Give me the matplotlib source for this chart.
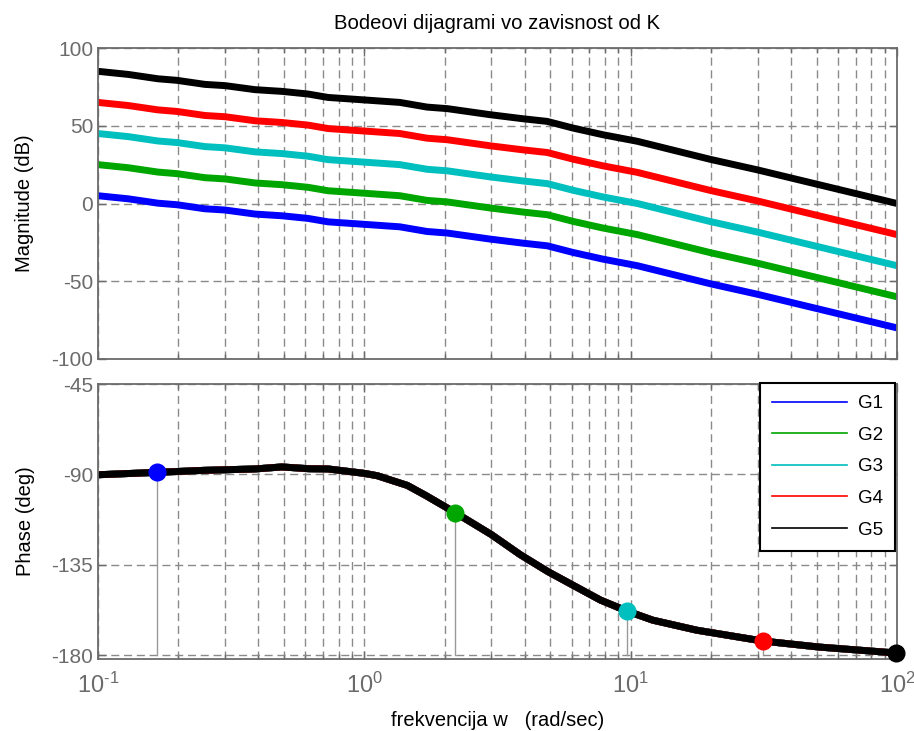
import matplotlib
matplotlib.use("Agg")
import matplotlib.pyplot as plt
from matplotlib.lines import Line2D
from matplotlib.ticker import LogLocator, NullFormatter, FixedLocator

plt.rcParams['font.family'] = ['Liberation Sans', 'DejaVu Sans']
plt.rcParams['lines.scale_dashes'] = False
plt.rcParams['axes.unicode_minus'] = False
plt.rcParams['mathtext.fontset'] = 'custom'
plt.rcParams['mathtext.rm'] = 'Liberation Sans'
plt.rcParams['mathtext.it'] = 'Liberation Sans:italic'
plt.rcParams['mathtext.bf'] = 'Liberation Sans:bold'

# ---------------- data ----------------
labels = ["G1", "G2", "G3", "G4", "G5"]
colors = ["#0000ff", "#00a600", "#00bfbf", "#ff0000", "#000000"]

w_mag = [0.1, 0.13, 0.168, 0.198, 0.252, 0.30, 0.389, 0.491, 0.615, 0.731,
         1.0, 1.36, 1.72, 2.05, 2.97, 3.94, 4.86, 6.08, 7.88, 10.6, 19.9, 29.8, 100]
mag_G5 = [85, 83, 80.2, 79.2, 76.6, 75.8, 73.2, 72.1, 70.4, 68.2,
          66.6, 65, 62, 61, 57.1, 54.5, 52.8, 48.5, 44.2, 40, 28.4, 21.7, 0]
mag_G4 = [65, 63, 60.2, 59.2, 56.6, 55.8, 53.2, 52.1, 50.4, 48.2,
          46.6, 45, 42, 41, 37.1, 34.5, 32.8, 28.5, 24.2, 20, 8.4, 1.7, -20]
mag_G3 = [45, 43, 40.2, 39.2, 36.6, 35.8, 33.2, 32.1, 30.4, 28.2,
          26.6, 25, 22, 21, 17.1, 14.5, 12.8, 8.5, 4.2, 0, -11.6, -18.3, -40]
mag_G2 = [25, 23, 20.2, 19.2, 16.6, 15.8, 13.2, 12.1, 10.4, 8.2,
          6.6, 5, 2, 1, -2.9, -5.5, -7.2, -11.5, -15.8, -20, -31.6, -38.3, -60]
mag_G1 = [5, 3, 0.2, -0.8, -3.4, -4.2, -6.8, -7.9, -9.6, -11.8,
          -13.4, -15, -18, -19, -22.9, -25.5, -27.2, -31.5, -35.8, -40, -51.6, -58.3, -80]
mags = [mag_G1, mag_G2, mag_G3, mag_G4, mag_G5]

w_ph = [0.1, 0.167, 0.25, 0.39, 0.49, 0.62, 0.73, 1.0, 1.12, 1.45, 1.7, 2.19, 3.0,
        3.85, 4.9, 7.7, 9.66, 12.1, 17.7, 31.3, 51, 100]
phase = [-90.2, -89.0, -88.0, -87.3, -86.3, -87.2, -87.3, -89.5, -90.7, -95.5, -100.5,
         -109, -120, -130, -138.5, -152.6, -158, -162.6, -167.6, -173, -176, -179]

w_cross = [0.167, 2.19, 9.66, 31.3, 99.5]
ph_cross = [-89.0, -109.0, -158.0, -173.0, -179.0]

mag_ticks = [-100, -50, 0, 50, 100]
ph_ticks = [-180, -135, -90, -45]
x_ticks = [0.1, 1, 10, 100]
x_ticklabels = [r"$10^{\text{-1}}$", r"$10^{\text{0}}$", r"$10^{\text{1}}$", r"$10^{\text{2}}$"]

# ---------------- figure ----------------
W, H = 914, 731
fig = plt.figure(figsize=(W / 100, H / 100), dpi=100)
ax1 = fig.add_axes([98 / W, 1 - 359 / H, 799 / W, 311 / H])
ax2 = fig.add_axes([98 / W, 1 - 658.5 / H, 799 / W, 274.5 / H])

gray = "#6b6b6b"
gridc = "#8a8a8a"
dash = (5.8, 3.4)

for ax in (ax1, ax2):
    ax.set_xscale("log")
    ax.set_xlim(0.1, 100)
    ax.xaxis.set_major_locator(FixedLocator(x_ticks))
    ax.xaxis.set_minor_locator(LogLocator(base=10, subs=range(2, 10)))
    ax.xaxis.set_minor_formatter(NullFormatter())
    ax.grid(True, which="major", axis="both", color=gridc, linestyle=(0, dash), linewidth=1.0)
    ax.grid(True, which="minor", axis="x", color=gridc, linestyle=(0, dash), linewidth=1.0)
    ax.tick_params(which="both", direction="in", top=True, right=True, colors=gray,
                   labelsize=15)
    ax.tick_params(which="major", length=6, width=1)
    ax.tick_params(which="minor", length=3.5, width=1)
    for s in ax.spines.values():
        s.set_color(gray)
        s.set_linewidth(1.3)
    ax.set_axisbelow(True)

# magnitude
for m, c in zip(mags, colors):
    ax1.plot(w_mag, m, color=c, linewidth=5, solid_capstyle="butt", solid_joinstyle="round")
ax1.set_ylim(-100, 100)
ax1.set_yticks(mag_ticks)
ax1.set_xticklabels([])
ax1.set_ylabel("Magnitude (dB)", fontsize=14.5, labelpad=12)
ax1.set_title("Bodeovi dijagrami vo zavisnost od K", fontsize=14.6, pad=14)

# phase
for c in colors:
    ax2.plot(w_ph, phase, color=c, linewidth=5, solid_capstyle="butt", solid_joinstyle="round")
for wc, pc in zip(w_cross, ph_cross):
    ax2.plot([wc, wc], [-180, pc], color="#9a9a9a", linewidth=1.0, zorder=1.5)
for wc, pc, c in zip(w_cross, ph_cross, colors):
    ax2.plot([wc], [pc], marker="o", markersize=12, color=c, markeredgecolor=c, zorder=5,
             clip_on=False)
ax2.set_ylim(-181.7, -45)
ax2.set_yticks(ph_ticks)
ax2.set_xticklabels(x_ticklabels, fontsize=17)
ax2.tick_params(axis="x", which="major", pad=10)
ax2.set_ylabel("Phase (deg)", fontsize=14.5, labelpad=12)
ax2.set_xlabel("frekvencija w   (rad/sec)", fontsize=14.5, labelpad=10)

handles = [Line2D([0], [0], color=c, linewidth=1.2) for c in colors]
leg = ax2.legend(handles, labels, loc="upper right",
                 bbox_to_anchor=(1.0 - 2 / 799, 1.0 + 1 / 274.5),
                 fontsize=13.5, frameon=True, fancybox=False, framealpha=1,
                 handlelength=4.0, handletextpad=0.55, labelspacing=0.77, borderpad=0.65,
                 borderaxespad=0.0)
leg.get_frame().set_edgecolor("black")
leg.get_frame().set_linewidth(1.5)

fig.savefig("out.png", dpi=100)
